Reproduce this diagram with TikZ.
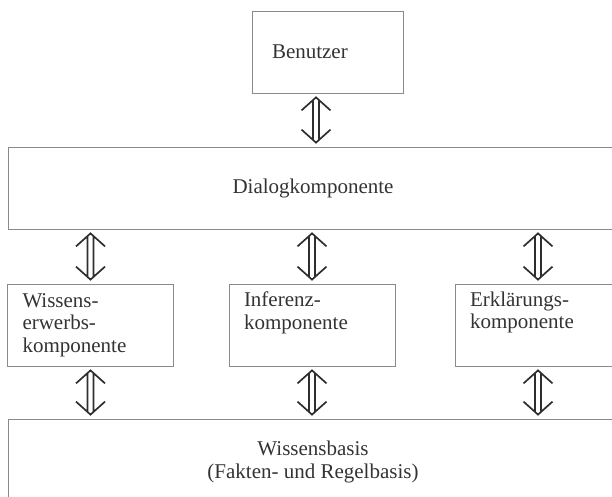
\documentclass[tikz,border=0pt]{standalone}
\usepackage{fontspec}
\setmainfont{Liberation Serif}
\definecolor{boxgray}{HTML}{8A8A8A}
\definecolor{textgray}{HTML}{333333}
\definecolor{arrowgray}{HTML}{2E2E2E}
\tikzset{
  box/.style={draw=boxgray, line width=0.8pt, text=textgray, font=\fontsize{21}{22.5}\selectfont},
  part/.style={box, minimum width=166pt, minimum height=82pt, text width=136pt, inner xsep=15pt, align=left},
  updown/.style={draw=arrowgray, line width=1.7pt, to path={
      (\tikztostart) ++(0,4) coordinate (tip1)
      (\tikztotarget) ++(0,-4) coordinate (tip2)
      (tip1) ++(-14.5,13) -- (tip1) -- ++(14.5,13)
      (tip2) ++(-14.5,-13) -- (tip2) -- ++(14.5,-13)
      ([shift={(-3,3)}]tip1) -- ([shift={(-3,-3)}]tip2)
      ([shift={(3,3)}]tip1) -- ([shift={(3,-3)}]tip2)}}
}
\begin{document}
\begin{tikzpicture}[x=1pt, y=-1pt]
  \useasboundingbox (0,0) rectangle (612,497);
  \clip (0,0) rectangle (612,497);

  \node[box, minimum width=151pt, minimum height=82pt, text width=111pt, inner xsep=20pt, align=left]
    at (327.5,52) (benutzer) {Benutzer};
  \node[box, minimum width=610pt, minimum height=82pt] at (313,188) (dialog) {Dialogkomponente};

  \node[part] at (90.5,325) (erwerb) {Wissens-\\erwerbs-\\komponente};
  \node[part] at (312,325) (inferenz) {Inferenz-\\komponente\\\strut};
  \node[part] at (538,325) (erklaerung) {Erkl\"arungs-\\komponente\\\strut};

  \node[box, minimum width=610pt, minimum height=86pt, align=center] at (313,462) (basis)
    {Wissensbasis\\(Fakten- und Regelbasis)};

  \draw[updown] ([xshift=-11.5pt]benutzer.south) to ([xshift=-11.5pt]benutzer.south |- dialog.north);

  \draw[updown] (dialog.south -| erwerb.north) to (erwerb.north);
  \draw[updown] (dialog.south -| inferenz.north) to (inferenz.north);
  \draw[updown] (dialog.south -| erklaerung.north) to (erklaerung.north);

  \draw[updown] (erwerb.south) to (erwerb.south |- basis.north);
  \draw[updown] (inferenz.south) to (inferenz.south |- basis.north);
  \draw[updown] (erklaerung.south) to (erklaerung.south |- basis.north);
\end{tikzpicture}
\end{document}
